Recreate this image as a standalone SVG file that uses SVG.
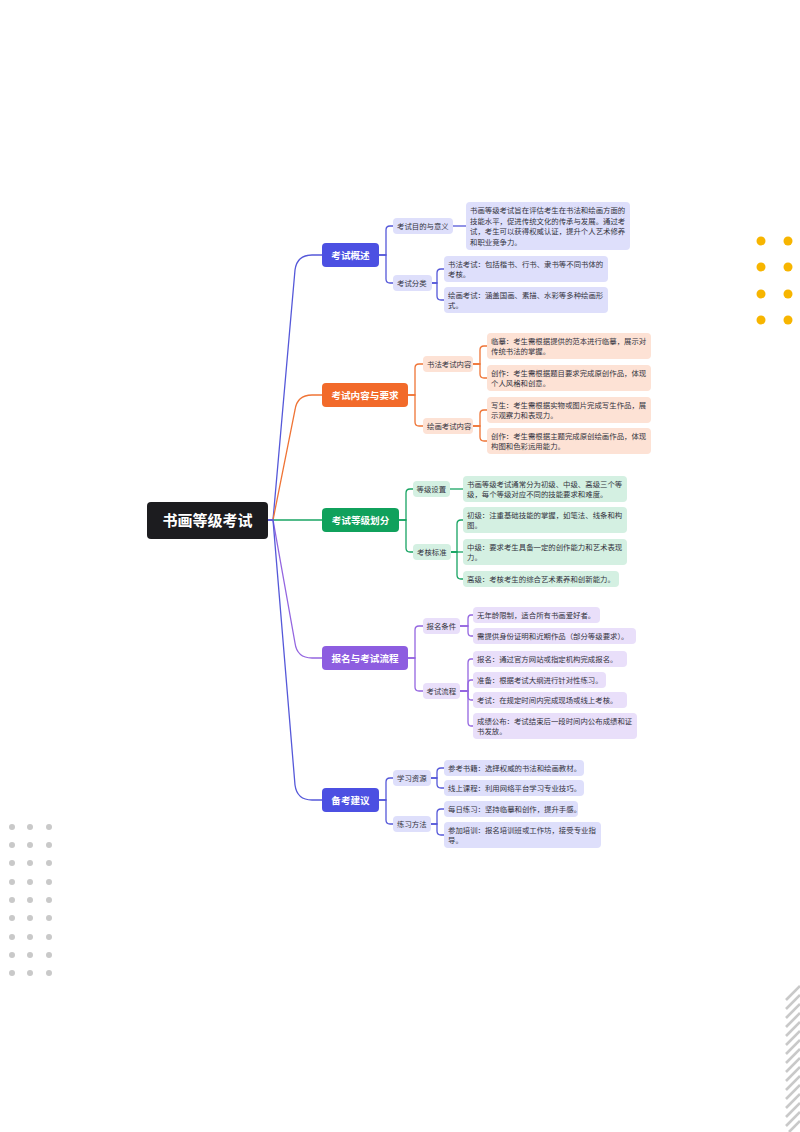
<svg xmlns="http://www.w3.org/2000/svg" width="800" height="1132" viewBox="0 0 800 1132">
<style>
text{font-family:"Noto Sans CJK SC","Noto Sans",sans-serif;fill:#333340}
.root{font-size:15px;font-weight:700;fill:#fff}
.l1{font-size:9.6px;font-weight:700;fill:#fff}
.t{font-size:7.4px}
.cb{fill:none;stroke:#5558d9;stroke-width:1.3}
.co{fill:none;stroke:#ef7436;stroke-width:1.3}
.cg{fill:none;stroke:#18a463;stroke-width:1.3}
.cp{fill:none;stroke:#9466e0;stroke-width:1.3}
.bB{fill:#4c50e2}.bO{fill:#f26a2a}.bG{fill:#10a15c}.bP{fill:#8d5de0}
.lB{fill:#dedffb}.lO{fill:#fde2d5}.lG{fill:#d4f0e2}.lP{fill:#e9dffa}
.yd{fill:#f7b500}.gd{fill:#c9c9c9}
</style>
<g id="decor">
<g id="yellow-dots">
<circle class="yd" cx="761" cy="241" r="4.5"/><circle class="yd" cx="788" cy="241" r="4.5"/>
<circle class="yd" cx="761" cy="267" r="4.5"/><circle class="yd" cx="788" cy="267" r="4.5"/>
<circle class="yd" cx="761" cy="294" r="4.5"/><circle class="yd" cx="788" cy="294" r="4.5"/>
<circle class="yd" cx="761" cy="320" r="4.5"/><circle class="yd" cx="788" cy="320" r="4.5"/>
</g>
<g id="gray-dots">
<circle class="gd" cx="12" cy="827" r="3"/><circle class="gd" cx="30" cy="827" r="3"/><circle class="gd" cx="49" cy="827" r="3"/>
<circle class="gd" cx="12" cy="845" r="3"/><circle class="gd" cx="30" cy="845" r="3"/><circle class="gd" cx="49" cy="845" r="3"/>
<circle class="gd" cx="12" cy="863" r="3"/><circle class="gd" cx="30" cy="863" r="3"/><circle class="gd" cx="49" cy="863" r="3"/>
<circle class="gd" cx="12" cy="882" r="3"/><circle class="gd" cx="30" cy="882" r="3"/><circle class="gd" cx="49" cy="882" r="3"/>
<circle class="gd" cx="12" cy="900" r="3"/><circle class="gd" cx="30" cy="900" r="3"/><circle class="gd" cx="49" cy="900" r="3"/>
<circle class="gd" cx="12" cy="918" r="3"/><circle class="gd" cx="30" cy="918" r="3"/><circle class="gd" cx="49" cy="918" r="3"/>
<circle class="gd" cx="12" cy="937" r="3"/><circle class="gd" cx="30" cy="937" r="3"/><circle class="gd" cx="49" cy="937" r="3"/>
<circle class="gd" cx="12" cy="955" r="3"/><circle class="gd" cx="30" cy="955" r="3"/><circle class="gd" cx="49" cy="955" r="3"/>
<circle class="gd" cx="12" cy="973" r="3"/><circle class="gd" cx="30" cy="973" r="3"/><circle class="gd" cx="49" cy="973" r="3"/>
</g>
<g id="stripes" stroke="#c9c9c9" stroke-width="2.6">
<line x1="786" y1="1000" x2="800" y2="986"/><line x1="786" y1="1009" x2="800" y2="995"/>
<line x1="786" y1="1018" x2="800" y2="1004"/><line x1="786" y1="1027" x2="800" y2="1013"/>
<line x1="786" y1="1036" x2="800" y2="1022"/><line x1="786" y1="1045" x2="800" y2="1031"/>
<line x1="786" y1="1054" x2="800" y2="1040"/><line x1="786" y1="1063" x2="800" y2="1049"/>
<line x1="786" y1="1072" x2="800" y2="1058"/><line x1="786" y1="1081" x2="800" y2="1067"/>
<line x1="786" y1="1090" x2="800" y2="1076"/><line x1="786" y1="1099" x2="800" y2="1085"/>
<line x1="786" y1="1108" x2="800" y2="1094"/><line x1="786" y1="1117" x2="800" y2="1103"/>
<line x1="786" y1="1126" x2="800" y2="1112"/><line x1="789" y1="1132" x2="800" y2="1121"/>
</g>
</g>
<g id="connectors">
<path class="cb" d="M268,520 H273 L295,270 Q297,255 312,255 H322"/>
<path class="co" d="M268,520 H273 L295,410 Q297,395 312,395 H322"/>
<path class="cg" d="M268,520 H322"/>
<path class="cp" d="M268,520 H273 L295,643 Q297,658 312,658 H322"/>
<path class="cb" d="M268,520 H273 L295,785 Q297,800 312,800 H322"/>
<path class="cb" d="M379,255 H386 V230 Q386,226 390,226 H393"/>
<path class="cb" d="M379,255 H386 V279 Q386,283 390,283 H393"/>
<path class="cb" d="M453,226 H466"/>
<path class="cb" d="M432,283 H437 V273 Q437,269 441,269 H444"/>
<path class="cb" d="M432,283 H437 V296 Q437,300 441,300 H444"/>
<path class="co" d="M408,395 H415 V368 Q415,364 419,364 H423"/>
<path class="co" d="M408,395 H415 V422 Q415,426 419,426 H423"/>
<path class="co" d="M473,364 H480 V350 Q480,346 484,346 H487"/>
<path class="co" d="M473,364 H480 V374 Q480,378 484,378 H487"/>
<path class="co" d="M473,426 H480 V414 Q480,410 484,410 H487"/>
<path class="co" d="M473,426 H480 V437 Q480,441 484,441 H487"/>
<path class="cg" d="M399,520 H406 V493 Q406,489 410,489 H413"/>
<path class="cg" d="M399,520 H406 V548 Q406,552 410,552 H413"/>
<path class="cg" d="M450,489 H463"/>
<path class="cg" d="M451,552 H457 V524 Q457,520 461,520 H463"/>
<path class="cg" d="M451,552 H463"/>
<path class="cg" d="M451,552 H457 V575 Q457,579 461,579 H463"/>
<path class="cp" d="M408,658 H415 V630 Q415,626 419,626 H423"/>
<path class="cp" d="M408,658 H415 V687 Q415,691 419,691 H423"/>
<path class="cp" d="M460,626 H468 V619 Q468,615 471,615 H473"/>
<path class="cp" d="M460,626 H468 V632 Q468,636 471,636 H473"/>
<path class="cp" d="M460,691 H468 V663 Q468,659 471,659 H473"/>
<path class="cp" d="M460,691 H468 V684 Q468,680 471,680 H473"/>
<path class="cp" d="M460,691 H468 V696 Q468,700 471,700 H473"/>
<path class="cp" d="M460,691 H468 V722 Q468,726 471,726 H473"/>
<path class="cb" d="M379,800 H386 V782 Q386,778 390,778 H393"/>
<path class="cb" d="M379,800 H386 V820 Q386,824 390,824 H393"/>
<path class="cb" d="M431,778 H437 V772 Q437,768 441,768 H444"/>
<path class="cb" d="M431,778 H437 V784 Q437,788 441,788 H444"/>
<path class="cb" d="M431,824 H437 V813 Q437,809 441,809 H444"/>
<path class="cb" d="M431,824 H437 V831 Q437,835 441,835 H444"/>
</g>
<g id="root"><rect x="147" y="502" width="121" height="37" rx="4" fill="#1c1c1f"/><text class="root" x="207.5" y="526" text-anchor="middle">书画等级考试</text></g>
<g id="n1"><rect class="bB" x="322" y="243" width="57" height="24" rx="4"/><text class="l1" x="350.5" y="258.5" text-anchor="middle">考试概述</text></g>
<g id="n1a"><rect class="lB" x="393" y="218" width="60" height="16" rx="4"/><text class="t" x="397" y="228.8">考试目的与意义</text></g>
<g id="n1a1"><rect class="lB" x="466" y="202" width="164" height="48" rx="4"/><text class="t"><tspan x="470" y="212.8">书画等级考试旨在评估考生在书法和绘画方面的</tspan><tspan x="470" y="223.5">技能水平，促进传统文化的传承与发展。通过考</tspan><tspan x="470" y="234.2">试，考生可以获得权威认证，提升个人艺术修养</tspan><tspan x="470" y="244.9">和职业竞争力。</tspan></text></g>
<g id="n1b"><rect class="lB" x="393" y="275" width="39" height="16" rx="4"/><text class="t" x="397" y="285.8">考试分类</text></g>
<g id="n1b1"><rect class="lB" x="444" y="256" width="164" height="26" rx="4"/><text class="t"><tspan x="448" y="266.5">书法考试：包括楷书、行书、隶书等不同书体的</tspan><tspan x="448" y="277.2">考核。</tspan></text></g>
<g id="n1b2"><rect class="lB" x="444" y="287" width="164" height="26" rx="4"/><text class="t"><tspan x="448" y="297.5">绘画考试：涵盖国画、素描、水彩等多种绘画形</tspan><tspan x="448" y="308.2">式。</tspan></text></g>
<g id="n2"><rect class="bO" x="322" y="383" width="86" height="24" rx="4"/><text class="l1" x="365" y="398.5" text-anchor="middle">考试内容与要求</text></g>
<g id="n2a"><rect class="lO" x="423" y="356" width="50" height="16" rx="4"/><text class="t" x="427" y="366.8">书法考试内容</text></g>
<g id="n2a1"><rect class="lO" x="487" y="333" width="164" height="26" rx="4"/><text class="t"><tspan x="491" y="343.5">临摹：考生需根据提供的范本进行临摹，展示对</tspan><tspan x="491" y="354.2">传统书法的掌握。</tspan></text></g>
<g id="n2a2"><rect class="lO" x="487" y="365" width="164" height="26" rx="4"/><text class="t"><tspan x="491" y="375.5">创作：考生需根据题目要求完成原创作品，体现</tspan><tspan x="491" y="386.2">个人风格和创意。</tspan></text></g>
<g id="n2b"><rect class="lO" x="423" y="418" width="50" height="16" rx="4"/><text class="t" x="427" y="428.8">绘画考试内容</text></g>
<g id="n2b1"><rect class="lO" x="487" y="397" width="164" height="26" rx="4"/><text class="t"><tspan x="491" y="407.5">写生：考生需根据实物或图片完成写生作品，展</tspan><tspan x="491" y="418.2">示观察力和表现力。</tspan></text></g>
<g id="n2b2"><rect class="lO" x="487" y="428" width="164" height="26" rx="4"/><text class="t"><tspan x="491" y="438.5">创作：考生需根据主题完成原创绘画作品，体现</tspan><tspan x="491" y="449.2">构图和色彩运用能力。</tspan></text></g>
<g id="n3"><rect class="bG" x="322" y="508" width="77" height="24" rx="4"/><text class="l1" x="360.5" y="523.5" text-anchor="middle">考试等级划分</text></g>
<g id="n3a"><rect class="lG" x="413" y="481" width="37" height="16" rx="4"/><text class="t" x="416.5" y="491.8">等级设置</text></g>
<g id="n3a1"><rect class="lG" x="463" y="476" width="164" height="26" rx="4"/><text class="t"><tspan x="467" y="486.5">书画等级考试通常分为初级、中级、高级三个等</tspan><tspan x="467" y="497.2">级，每个等级对应不同的技能要求和难度。</tspan></text></g>
<g id="n3b"><rect class="lG" x="413" y="544" width="38" height="16" rx="4"/><text class="t" x="417" y="554.8">考核标准</text></g>
<g id="n3b1"><rect class="lG" x="463" y="507" width="164" height="26" rx="4"/><text class="t"><tspan x="467" y="517.5">初级：注重基础技能的掌握，如笔法、线条和构</tspan><tspan x="467" y="528.2">图。</tspan></text></g>
<g id="n3b2"><rect class="lG" x="463" y="539" width="164" height="26" rx="4"/><text class="t"><tspan x="467" y="549.5">中级：要求考生具备一定的创作能力和艺术表现</tspan><tspan x="467" y="560.2">力。</tspan></text></g>
<g id="n3b3"><rect class="lG" x="463" y="571" width="156" height="16" rx="4"/><text class="t" x="467" y="581.8">高级：考核考生的综合艺术素养和创新能力。</text></g>
<g id="n4"><rect class="bP" x="322" y="646" width="86" height="24" rx="4"/><text class="l1" x="365" y="661.5" text-anchor="middle">报名与考试流程</text></g>
<g id="n4a"><rect class="lP" x="423" y="618" width="37" height="16" rx="4"/><text class="t" x="426.5" y="628.8">报名条件</text></g>
<g id="n4a1"><rect class="lP" x="473" y="607" width="127" height="16" rx="4"/><text class="t" x="477" y="617.8">无年龄限制，适合所有书画爱好者。</text></g>
<g id="n4a2"><rect class="lP" x="473" y="628" width="163" height="16" rx="4"/><text class="t" x="477" y="638.8">需提供身份证明和近期作品（部分等级要求）。</text></g>
<g id="n4b"><rect class="lP" x="423" y="683" width="37" height="16" rx="4"/><text class="t" x="426.5" y="693.8">考试流程</text></g>
<g id="n4b1"><rect class="lP" x="473" y="651" width="154" height="16" rx="4"/><text class="t" x="477" y="661.8">报名：通过官方网站或指定机构完成报名。</text></g>
<g id="n4b2"><rect class="lP" x="473" y="672" width="133" height="16" rx="4"/><text class="t" x="477" y="682.8">准备：根据考试大纲进行针对性练习。</text></g>
<g id="n4b3"><rect class="lP" x="473" y="692" width="154" height="16" rx="4"/><text class="t" x="477" y="702.8">考试：在规定时间内完成现场或线上考核。</text></g>
<g id="n4b4"><rect class="lP" x="473" y="713" width="164" height="26" rx="4"/><text class="t"><tspan x="477" y="723.5">成绩公布：考试结束后一段时间内公布成绩和证</tspan><tspan x="477" y="734.2">书发放。</tspan></text></g>
<g id="n5"><rect class="bB" x="322" y="788" width="57" height="24" rx="4"/><text class="l1" x="350.5" y="803.5" text-anchor="middle">备考建议</text></g>
<g id="n5a"><rect class="lB" x="393" y="770" width="38" height="16" rx="4"/><text class="t" x="397" y="780.8">学习资源</text></g>
<g id="n5a1"><rect class="lB" x="444" y="760" width="140" height="16" rx="4"/><text class="t" x="448" y="770.8">参考书籍：选择权威的书法和绘画教材。</text></g>
<g id="n5a2"><rect class="lB" x="444" y="780" width="140" height="16" rx="4"/><text class="t" x="448" y="790.8">线上课程：利用网络平台学习专业技巧。</text></g>
<g id="n5b"><rect class="lB" x="393" y="816" width="38" height="16" rx="4"/><text class="t" x="397" y="826.8">练习方法</text></g>
<g id="n5b1"><rect class="lB" x="444" y="801" width="134" height="16" rx="4"/><text class="t" x="448" y="811.8">每日练习：坚持临摹和创作，提升手感。</text></g>
<g id="n5b2"><rect class="lB" x="444" y="822" width="157" height="26" rx="4"/><text class="t"><tspan x="448" y="832.5">参加培训：报名培训班或工作坊，接受专业指</tspan><tspan x="448" y="843.2">导。</tspan></text></g>
</svg>
